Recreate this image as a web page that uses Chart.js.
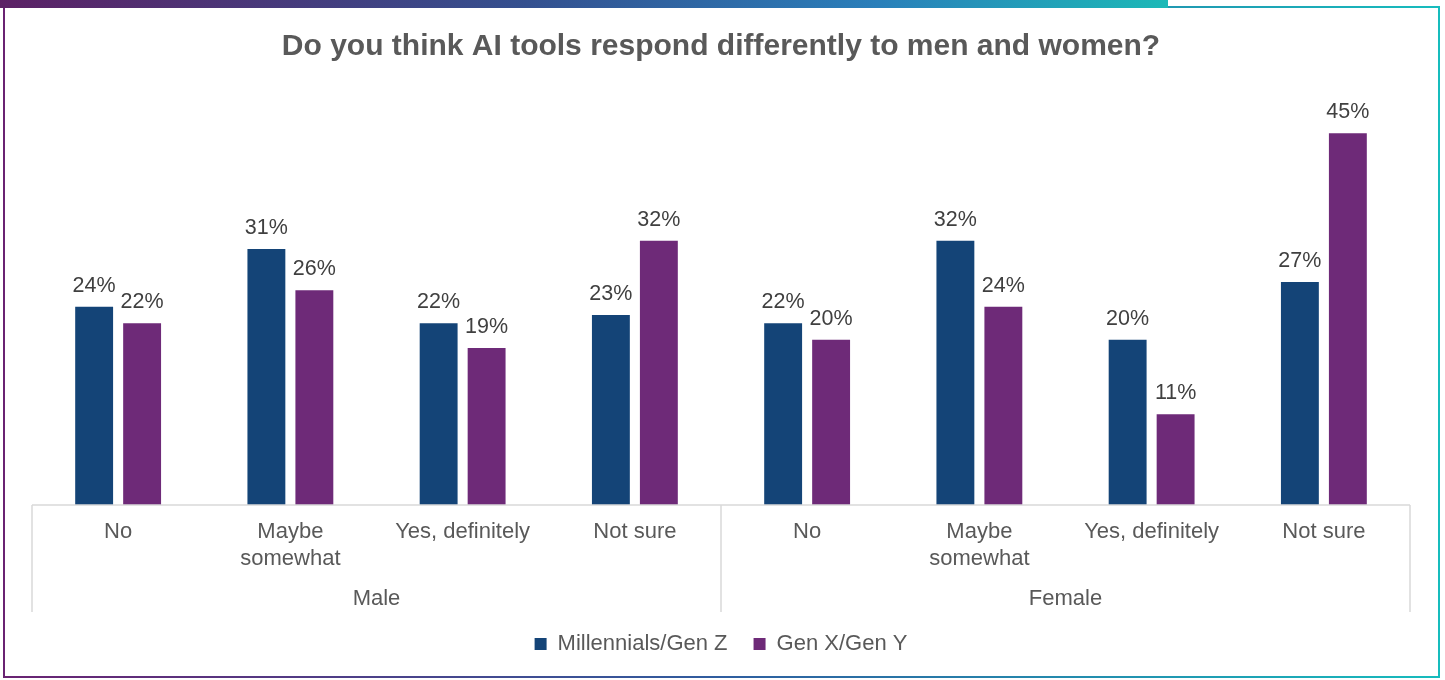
<!DOCTYPE html>
<html>
<head>
<meta charset="utf-8">
<script src="https://cdn.jsdelivr.net/npm/chart.js@4"></script>
<style>
  body { margin: 0; background: #ffffff; }
  #wrap { position: relative; width: 1445px; height: 680px; overflow: hidden; }
  #frame {
    position: absolute; left: 3px; top: 6px; width: 1433px; height: 668px;
    border: 2px solid; border-image: linear-gradient(to right, #6a2372, #2f5d9f 50%, #17bcbd) 1;
  }
  #topbar {
    position: absolute; left: 0; top: 0; width: 1168px; height: 8px;
    background: linear-gradient(to right, #5c2165, #34508f 45%, #2a7fba 75%, #1cb9b7);
  }
  canvas { position: absolute; left: 0; top: 0; }
</style>
</head>
<body>
<div id="wrap">
  <div id="frame"></div>
  <div id="topbar"></div>
  <canvas id="chart" width="1445" height="680"></canvas>
</div>
<script>
const titleText = "Do you think AI tools respond differently to men and women?";
const answers = ["No", ["Maybe", "somewhat"], "Yes, definitely", "Not sure"];
const groups = ["Male", "Female"];
const seriesNames = ["Millennials/Gen Z", "Gen X/Gen Y"];
const seriesColors = ["#144477", "#6e2a78"];

// male then female, same order as answers
const millennials = [24, 31, 22, 23, 22, 32, 20, 27];
const genX = [22, 26, 19, 32, 20, 24, 11, 45];

let labels = [];
groups.forEach(function () {
  answers.forEach(function (a) { labels.push(a); });
});

const FONT = "'Liberation Sans', Arial, sans-serif";

const extrasPlugin = {
  id: "extras",
  afterDraw(chart) {
    const ctx = chart.ctx;
    const x = chart.scales.x;
    const area = chart.chartArea;
    const axisY = area.bottom;
    const lineBottom = axisY + 107;

    ctx.save();
    ctx.strokeStyle = "#d9d9d9";
    ctx.lineWidth = 1.5;

    // axis line
    ctx.beginPath();
    ctx.moveTo(area.left, axisY);
    ctx.lineTo(area.right, axisY);
    ctx.stroke();

    // group separators
    const per = answers.length;
    const half = (x.getPixelForValue(1) - x.getPixelForValue(0)) / 2;
    for (let g = 0; g <= groups.length; g++) {
      let px;
      if (g === groups.length) px = x.getPixelForValue(g * per - 1) + half;
      else px = x.getPixelForValue(g * per) - half;
      ctx.beginPath();
      ctx.moveTo(px, axisY);
      ctx.lineTo(px, lineBottom);
      ctx.stroke();
    }

    // group labels
    ctx.fillStyle = "#595959";
    ctx.font = "22px " + FONT;
    ctx.textAlign = "center";
    ctx.textBaseline = "middle";
    groups.forEach(function (name, g) {
      const left = x.getPixelForValue(g * per) - half;
      const right = x.getPixelForValue(g * per + per - 1) + half;
      ctx.fillText(name, (left + right) / 2, axisY + 94);
    });

    // value labels
    ctx.fillStyle = "#404040";
    ctx.font = "21.5px " + FONT;
    ctx.textBaseline = "alphabetic";
    chart.data.datasets.forEach(function (ds, i) {
      const meta = chart.getDatasetMeta(i);
      meta.data.forEach(function (bar, j) {
        ctx.fillText(ds.data[j] + "%", bar.x, bar.y - 15);
      });
    });
    ctx.restore();
  }
};

const ctx = document.getElementById("chart").getContext("2d");
new Chart(ctx, {
  type: "bar",
  data: {
    labels: labels,
    datasets: [
      {
        label: seriesNames[0],
        data: millennials,
        backgroundColor: seriesColors[0],
        categoryPercentage: 0.557,
        barPercentage: 0.79,
      },
      {
        label: seriesNames[1],
        data: genX,
        backgroundColor: seriesColors[1],
        categoryPercentage: 0.557,
        barPercentage: 0.79,
      },
    ],
  },
  options: {
    responsive: false,
    animation: false,
    layout: { padding: { left: 32, right: 35, top: 0, bottom: 15 } },
    plugins: {
      title: {
        display: true,
        text: titleText,
        color: "#595959",
        font: { family: FONT, size: 30, weight: "bold" },
        padding: { top: 29, bottom: 27 },
      },
      legend: {
        position: "bottom",
        labels: {
          color: "#595959",
          font: { family: FONT, size: 22 },
          boxWidth: 12,
          boxHeight: 12,
          padding: 26,
        },
      },
      tooltip: { enabled: false },
    },
    scales: {
      x: {
        grid: { display: false, drawTicks: false },
        border: { display: false },
        ticks: {
          color: "#595959",
          font: { family: FONT, size: 22, lineHeight: 1.2 },
          padding: 14,
          maxRotation: 0,
          autoSkip: false,
        },
        afterFit: function (scale) { scale.height = 102; },
      },
      y: {
        display: false,
        min: 0,
        max: 50,
      },
    },
  },
  plugins: [extrasPlugin],
});
</script>
</body>
</html>
